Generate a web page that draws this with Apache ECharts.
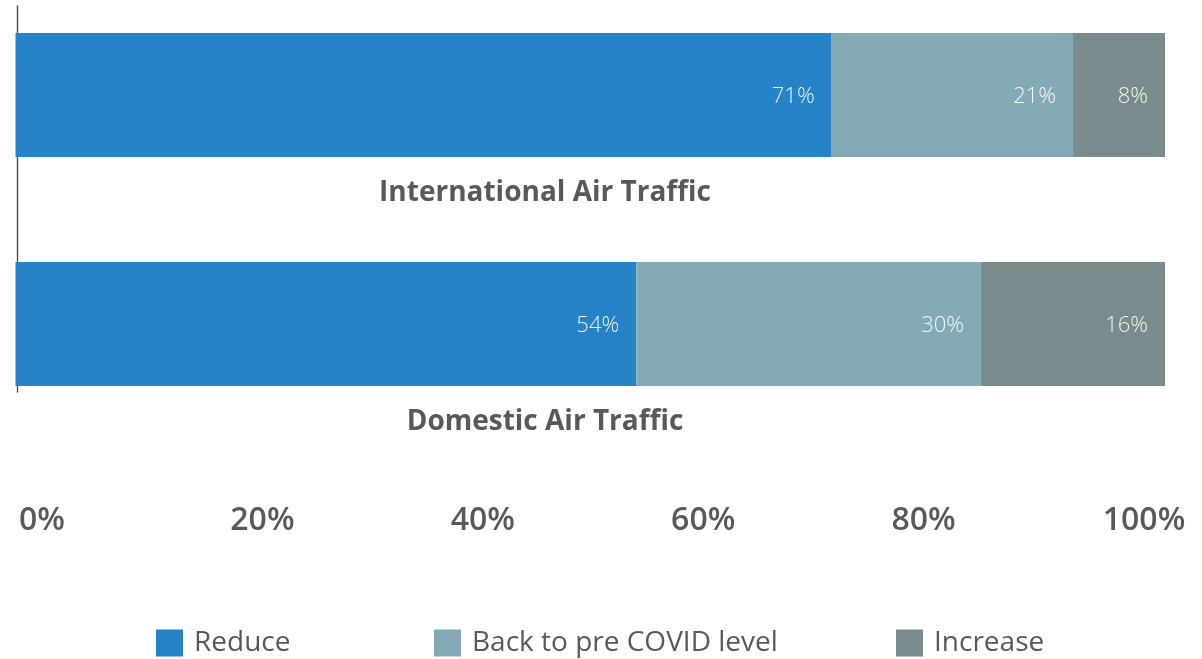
<!DOCTYPE html>
<html>
<head>
<meta charset="utf-8">
<title>Air Traffic Outlook</title>
<script src="https://cdn.jsdelivr.net/npm/echarts@6/dist/echarts.min.js"></script>
<style>
  html, body { margin: 0; padding: 0; background: #ffffff; }
  #chart { width: 1202px; height: 659px; }
</style>
</head>
<body>
<div id="chart"></div>
<script>
// Categories, top to bottom
const categories = ['International Air Traffic', 'Domestic Air Traffic'];

// Share of respondents per expectation (%)
const reduceValues = [71, 54];
const backToPreCovidValues = [21, 30];
const increaseValues = [8, 16];

// Series names as shown in the legend
const seriesNames = ['Reduce', 'Back to pre COVID level', 'Increase'];
const seriesColors = ['#2783c7', '#84abb5', '#7a8b8d'];

// Percentage scale ticks
const tickMin = 0;
const tickMax = 100;
const tickStep = 20;

const chart = echarts.init(document.getElementById('chart'), null, { renderer: 'canvas' });

const valueLabel = {
  show: true,
  position: 'insideRight',
  distance: 17,
  offset: [0, 2],
  formatter: '{c}%',
  color: 'rgba(255,255,255,0.88)',
  fontFamily: 'Open Sans',
  fontWeight: 300,
  fontSize: 22
};

const seriesValues = [reduceValues, backToPreCovidValues, increaseValues];

const legendLefts = [156, 434, 896];

const option = {
  backgroundColor: '#ffffff',
  animation: false,
  grid: [
    // bars: category ticks sit on the grid's top and bottom edges
    { left: 15.5, right: 37, top: 95, height: 229, containLabel: false },
    // vertical baseline
    { left: 17.5, width: 100, top: 6, height: 386 },
    // percentage scale
    { left: 42, right: 58, top: 480, height: 10 }
  ],
  xAxis: [
    { gridIndex: 0, type: 'value', min: tickMin, max: tickMax, show: false },
    { gridIndex: 1, type: 'value', min: 0, max: 1, show: false },
    {
      gridIndex: 2,
      type: 'value',
      min: tickMin,
      max: tickMax,
      interval: tickStep,
      position: 'bottom',
      axisLine: { show: false },
      axisTick: { show: false },
      splitLine: { show: false },
      axisLabel: {
        margin: 15,
        formatter: '{value}%',
        color: '#58595b',
        fontFamily: 'Open Sans',
        fontWeight: 600,
        fontSize: 32,
        lineHeight: 32
      }
    }
  ],
  yAxis: [
    {
      gridIndex: 0,
      type: 'category',
      data: categories,
      inverse: true,
      boundaryGap: false,
      axisLine: { show: false },
      axisTick: { show: false },
      splitLine: { show: false },
      axisLabel: {
        inside: true,
        margin: 529.5,
        align: 'center',
        verticalAlign: 'top',
        padding: [83, 0, 0, 0],
        color: '#58595b',
        fontFamily: 'Open Sans',
        fontWeight: 700,
        fontSize: 28,
        lineHeight: 30
      }
    },
    {
      gridIndex: 1,
      type: 'value',
      min: 0,
      max: 1,
      axisLine: { show: true, lineStyle: { color: '#4a4a4a', width: 1.4 } },
      axisTick: { show: false },
      axisLabel: { show: false },
      splitLine: { show: false }
    },
    {
      gridIndex: 2,
      type: 'value',
      show: false
    }
  ],
  legend: seriesNames.map((name, i) => ({
    data: [name],
    left: legendLefts[i],
    top: 629,
    padding: 0,
    itemWidth: 27,
    itemHeight: 27,
    icon: 'rect',
    selectedMode: false,
    textStyle: {
      color: '#58595b',
      fontFamily: 'Open Sans',
      fontSize: 28,
      padding: [0, 0, 0, 6]
    }
  })),
  series: seriesNames.map((name, i) => ({
    name: name,
    type: 'bar',
    stack: 'share',
    xAxisIndex: 0,
    yAxisIndex: 0,
    barWidth: 124,
    data: seriesValues[i],
    itemStyle: { color: seriesColors[i] },
    label: valueLabel
  }))
};

chart.setOption(option);
</script>
</body>
</html>
